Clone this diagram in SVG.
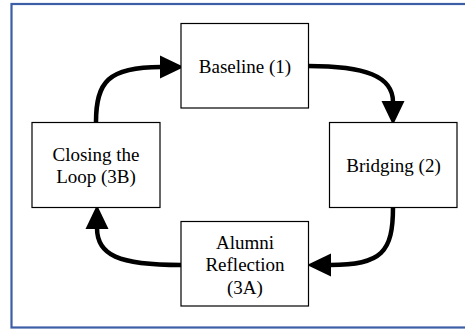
<svg xmlns="http://www.w3.org/2000/svg" width="465" height="330" viewBox="0 0 465 330">
<style>
.box{fill:#fff;stroke:#000;stroke-width:1.2}
.t{font-family:"Liberation Serif","Times New Roman",serif;font-size:19px;fill:#000;text-anchor:middle}
.c{fill:none;stroke:#000;stroke-width:4.5;stroke-linecap:round}
</style>
<defs>
<marker id="ah" markerUnits="userSpaceOnUse" markerWidth="26" markerHeight="24" refX="1" refY="12" orient="auto" overflow="visible">
<path d="M0,0.5 L24,12 L0,23.5 Z" fill="#000"/>
</marker>
</defs>
<rect x="11.5" y="4" width="460" height="323.5" fill="#fff" stroke="#3b5ea6" stroke-width="2.2"/>
<g id="connectors">
<path class="c" d="M308,66 C365,66 393,76 393,102" marker-end="url(#ah)"/>
<path class="c" d="M393,207 C393,252 382,265 330,265" marker-end="url(#ah)"/>
<path class="c" d="M181,265 C118,265 97,255 97,228" marker-end="url(#ah)"/>
<path class="c" d="M96,122 C96,82 108,67 161,67" marker-end="url(#ah)"/>
</g>
<g id="baseline">
<rect class="box" x="181" y="23.5" width="127.5" height="84.5"/>
<text class="t" x="245" y="72.5">Baseline (1)</text>
</g>
<g id="bridging">
<rect class="box" x="329.5" y="122.5" width="127.5" height="85"/>
<text class="t" x="393.5" y="171.5">Bridging (2)</text>
</g>
<g id="alumni">
<rect class="box" x="181" y="221.5" width="127.5" height="84.5"/>
<text class="t" x="245" y="249">Alumni</text>
<text class="t" x="245" y="271">Reflection</text>
<text class="t" x="245" y="293.5">(3A)</text>
</g>
<g id="closing">
<rect class="box" x="32" y="122.5" width="128" height="85"/>
<text class="t" x="96" y="160.5">Closing the</text>
<text class="t" x="96" y="183">Loop (3B)</text>
</g>
</svg>
